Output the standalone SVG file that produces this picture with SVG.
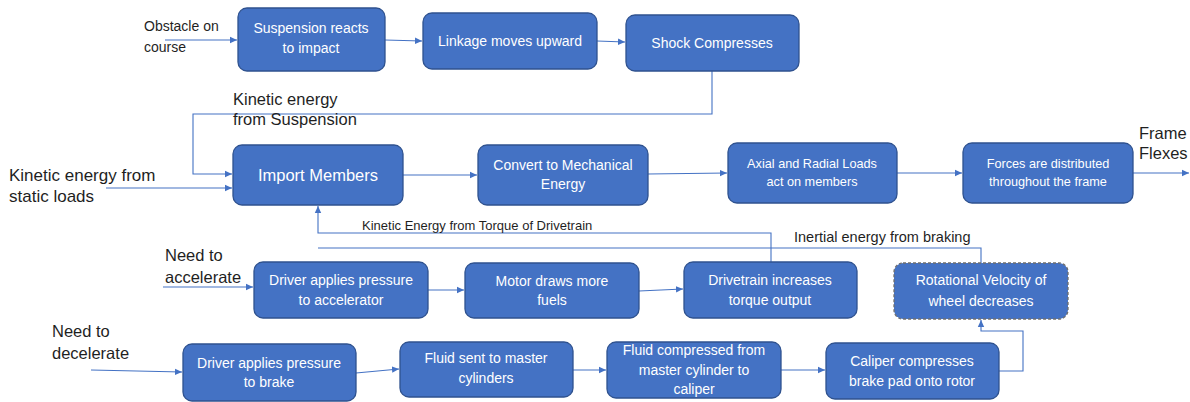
<svg xmlns="http://www.w3.org/2000/svg" width="1190" height="402" viewBox="0 0 1190 402">
<defs>
<marker id="ah" markerWidth="8" markerHeight="8" refX="7" refY="4" orient="auto" markerUnits="userSpaceOnUse">
<path d="M0,0.8 L7,4 L0,7.2 Z" fill="#4472C4"/>
</marker>
<style>
.box{fill:#4472C4;stroke:#2F528F;stroke-width:1.3}
.dash{fill:#4472C4;stroke:#6E6E6E;stroke-width:1.3;stroke-dasharray:3,2}
.bt{fill:#FFFFFF;font-family:"Liberation Sans",Arial,sans-serif;font-size:14px;text-anchor:middle}
.sm{font-size:12.7px}
.lb{fill:#1F1F1F;font-family:"Liberation Sans",Arial,sans-serif;font-size:16.5px}
.c{fill:none;stroke:#4472C4;stroke-width:1.1}
.a{marker-end:url(#ah)}
</style>
</defs>
<rect width="1190" height="402" fill="#FFFFFF"/>

<g id="connectors">
<path class="c a" d="M165,40 L237,40"/>
<path class="c a" d="M385,40 L422,41"/>
<path class="c a" d="M597,41 L625,42"/>
<path class="c a" d="M712,71 V114 H193 V174 H232"/>
<path class="c a" d="M106,188 L232,188"/>
<path class="c a" d="M403,175 L477,175"/>
<path class="c a" d="M648,174 L727,173"/>
<path class="c a" d="M897,173 L962,173"/>
<path class="c a" d="M1133,173 L1189,173"/>
<path class="c a" d="M771,262 V233 H318 V206"/>
<path class="c" d="M981,263 V248 H318"/>
<path class="c a" d="M163,287 L253,287"/>
<path class="c a" d="M428,290 L464,290"/>
<path class="c a" d="M639,291 L683,289"/>
<path class="c a" d="M91,370 L182,372"/>
<path class="c a" d="M356,373 L399,369"/>
<path class="c a" d="M573,370 L606,370"/>
<path class="c a" d="M781,370 L825,370"/>
<path class="c a" d="M999,371 H1023 V331 H981 V320"/>
</g>

<g id="labels">
<text class="lb" x="144" y="31" style="font-size:14px">Obstacle on</text>
<text class="lb" x="144" y="52" style="font-size:14px">course</text>
<text class="lb" x="233" y="105">Kinetic energy</text>
<text class="lb" x="233" y="125">from Suspension</text>
<text class="lb" x="9" y="181" style="font-size:17px">Kinetic energy from</text>
<text class="lb" x="9" y="202" style="font-size:17px">static loads</text>
<text class="lb" x="362" y="230" style="font-size:13px">Kinetic Energy from Torque of Drivetrain</text>
<text class="lb" x="794" y="242" style="font-size:14.5px">Inertial energy from braking</text>
<text class="lb" x="1139" y="139">Frame</text>
<text class="lb" x="1139" y="159">Flexes</text>
<text class="lb" x="165" y="261">Need to</text>
<text class="lb" x="165" y="283">accelerate</text>
<text class="lb" x="52" y="337">Need to</text>
<text class="lb" x="52" y="359">decelerate</text>
</g>

<g id="n-suspension">
<rect class="box" x="238" y="8" width="147" height="63" rx="9"/>
<text class="bt" x="311" y="33">Suspension reacts</text>
<text class="bt" x="311" y="53">to impact</text>
</g>
<g id="n-linkage">
<rect class="box" x="423" y="13" width="174" height="56" rx="9"/>
<text class="bt" x="510" y="46">Linkage moves upward</text>
</g>
<g id="n-shock">
<rect class="box" x="626" y="15" width="173" height="56" rx="9"/>
<text class="bt" x="712" y="48">Shock Compresses</text>
</g>
<g id="n-import">
<rect class="box" x="233" y="145" width="170" height="60" rx="9"/>
<text class="bt" x="318" y="181" style="font-size:16.5px">Import Members</text>
</g>
<g id="n-convert">
<rect class="box" x="478" y="145" width="170" height="60" rx="9"/>
<text class="bt" x="563" y="170">Convert to Mechanical</text>
<text class="bt" x="563" y="189">Energy</text>
</g>
<g id="n-axial">
<rect class="box" x="728" y="143" width="169" height="60" rx="9"/>
<text class="bt sm" x="812" y="168">Axial and Radial Loads</text>
<text class="bt sm" x="812" y="186">act on members</text>
</g>
<g id="n-forces">
<rect class="box" x="963" y="143" width="170" height="60" rx="9"/>
<text class="bt sm" x="1048" y="168">Forces are distributed</text>
<text class="bt sm" x="1048" y="186">throughout the frame</text>
</g>
<g id="n-driver-accel">
<rect class="box" x="254" y="262" width="174" height="56" rx="9"/>
<text class="bt" x="341" y="285">Driver applies pressure</text>
<text class="bt" x="341" y="305">to accelerator</text>
</g>
<g id="n-motor">
<rect class="box" x="465" y="263" width="174" height="55" rx="9"/>
<text class="bt" x="552" y="286">Motor draws more</text>
<text class="bt" x="552" y="305">fuels</text>
</g>
<g id="n-drivetrain">
<rect class="box" x="684" y="262" width="173" height="56" rx="9"/>
<text class="bt" x="770" y="285">Drivetrain increases</text>
<text class="bt" x="770" y="305">torque output</text>
</g>
<g id="n-rotational">
<rect class="dash" x="894" y="263" width="174" height="56" rx="9"/>
<text class="bt" x="981" y="285">Rotational Velocity of</text>
<text class="bt" x="981" y="306">wheel decreases</text>
</g>
<g id="n-driver-brake">
<rect class="box" x="183" y="344" width="173" height="57" rx="9"/>
<text class="bt" x="269" y="368">Driver applies pressure</text>
<text class="bt" x="269" y="387">to brake</text>
</g>
<g id="n-fluid-sent">
<rect class="box" x="400" y="342" width="173" height="55" rx="9"/>
<text class="bt" x="486" y="363">Fluid sent to master</text>
<text class="bt" x="486" y="383">cylinders</text>
</g>
<g id="n-fluid-comp">
<rect class="box" x="607" y="342" width="174" height="56" rx="9"/>
<text class="bt" x="694" y="355">Fluid compressed from</text>
<text class="bt" x="694" y="375">master cylinder to</text>
<text class="bt" x="694" y="394">caliper</text>
</g>
<g id="n-caliper">
<rect class="box" x="826" y="343" width="173" height="56" rx="9"/>
<text class="bt" x="912" y="366">Caliper compresses</text>
<text class="bt" x="912" y="386">brake pad onto rotor</text>
</g>
</svg>
